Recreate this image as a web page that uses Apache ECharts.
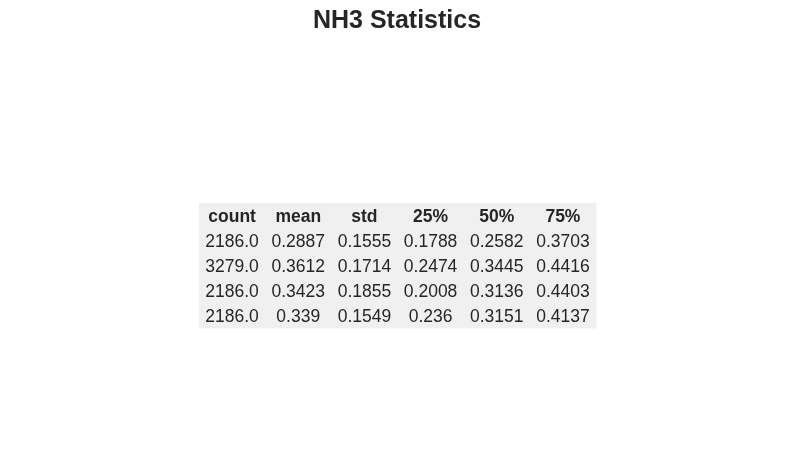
<!DOCTYPE html>
<html>
<head>
<meta charset="utf-8">
<script src="https://cdn.jsdelivr.net/npm/echarts@6/dist/echarts.min.js"></script>
<style>
  html, body { margin: 0; padding: 0; background: #fff; }
  #main { width: 794px; height: 469px; }
</style>
</head>
<body>
<div id="main"></div>
<script>
var columns = ['count', 'mean', 'std', '25%', '50%', '75%'];
var counts = [2186.0, 3279.0, 2186.0, 2186.0];
var means = [0.2887, 0.3612, 0.3423, 0.339];
var stds = [0.1555, 0.1714, 0.1855, 0.1549];
var q25 = [0.1788, 0.2474, 0.2008, 0.236];
var q50 = [0.2582, 0.3445, 0.3136, 0.3151];
var q75 = [0.3703, 0.4416, 0.4403, 0.4137];

var rowNames = ['header', 'r1', 'r2', 'r3', 'r4'];

// cell texts, row by row (first row is the header)
var cells = [columns];
for (var i = 0; i < counts.length; i++) {
    cells.push([
        counts[i].toFixed(1),
        String(means[i]),
        String(stds[i]),
        String(q25[i]),
        String(q50[i]),
        String(q75[i])
    ]);
}

var cellData = [];
for (var r = 0; r < cells.length; r++) {
    for (var c = 0; c < columns.length; c++) {
        cellData.push([c, r]);
    }
}

var myChart = echarts.init(document.getElementById('main'));

var option = {
    backgroundColor: '#ffffff',
    animation: false,
    title: {
        text: 'NH3 Statistics',
        left: 'center',
        top: 4,
        textStyle: {
            fontFamily: 'Liberation Sans, Arial, sans-serif',
            fontSize: 25,
            fontWeight: 'bold',
            color: '#262626'
        }
    },
    grid: {
        left: 199,
        right: 198,
        top: 203,
        bottom: 141
    },
    xAxis: {
        type: 'category',
        data: columns,
        show: false
    },
    yAxis: {
        type: 'category',
        data: rowNames,
        inverse: true,
        show: false
    },
    series: [{
        type: 'custom',
        data: cellData,
        renderItem: function (params, api) {
            var c = api.value(0);
            var r = api.value(1);
            var pt = api.coord([c, r]);
            var size = api.size([1, 1]);
            return {
                type: 'group',
                children: [{
                    type: 'rect',
                    shape: {
                        x: pt[0] - size[0] / 2,
                        y: pt[1] - size[1] / 2,
                        width: size[0] + 0.5,
                        height: size[1] + 0.5
                    },
                    style: { fill: '#f0f0f0' }
                }, {
                    type: 'text',
                    x: pt[0],
                    y: pt[1] + 2,
                    style: {
                        text: cells[r][c],
                        fill: '#262626',
                        fontFamily: 'Liberation Sans, Arial, sans-serif',
                        fontSize: 17.5,
                        fontWeight: r === 0 ? 'bold' : 'normal',
                        align: 'center',
                        verticalAlign: 'middle'
                    }
                }]
            };
        }
    }]
};

myChart.setOption(option);
</script>
</body>
</html>
